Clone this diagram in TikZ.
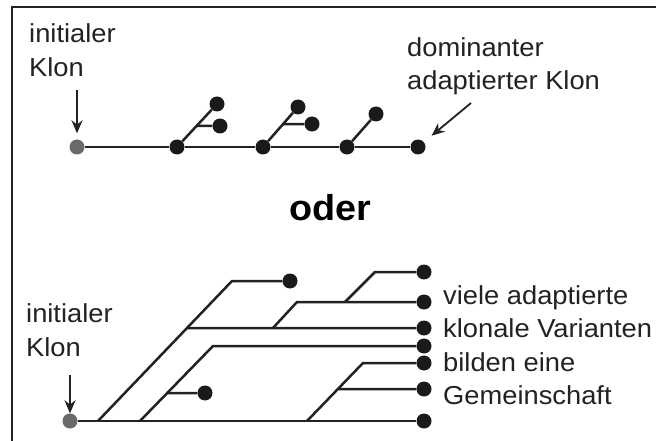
\documentclass[tikz,border=0pt]{standalone}
\usepackage{fontspec}
\setmainfont[FakeStretch=1.05]{Liberation Sans}
\usetikzlibrary{calc,arrows.meta}
\definecolor{ink}{HTML}{222222}
\definecolor{dotc}{HTML}{1A1A1A}
\definecolor{initc}{HTML}{6A6A6A}
\begin{document}
\begin{tikzpicture}[x=1pt,y=-1pt,
  dot/.style={circle,fill=dotc,inner sep=0pt,minimum size=15pt},
  initdot/.style={circle,fill=initc,inner sep=0pt,minimum size=15pt},
  branch/.style={draw=ink,line width=2.5pt},
  pointer/.style={draw=ink,line width=1.8pt,-{Stealth[length=13pt,width=11pt]}},
  lbl/.style={inner sep=0pt,anchor=base west,text=ink,font=\fontsize{26}{34}\selectfont},
  frameline/.style={draw=ink,line width=2.2pt}]
\useasboundingbox (0,0) rectangle (656,441);
\fill[white] (0,0) rectangle (656,441);
% frame (top and left edges)
\draw[frameline] (12,441) -- (12,7) -- (656,7);

% ---------- upper tree: one dominant lineage ----------
\node[initdot] (t0) at (77,147) {};
\node[dot] (t1) at (177,147) {};
\node[dot] (t2) at (263,147) {};
\node[dot] (t3) at (347,147) {};
\node[dot] (t4) at (418,147) {};
\node[dot] (t1a) at (217,104) {};
\node[dot] (t1b) at (220,126) {};
\node[dot] (t2a) at (298,107) {};
\node[dot] (t2b) at (312,124) {};
\node[dot] (t3a) at (376,114) {};
\coordinate (j1) at ($(t1.center)!0.49!(t1a.center)$);
\coordinate (j2) at ($(t2.center)!0.57!(t2a.center)$);
\draw[branch] (t0) -- (t1) -- (t2) -- (t3) -- (t4);
\draw[branch] (t1) -- (t1a);
\draw[branch] (j1) -- (t1b);
\draw[branch] (t2) -- (t2a);
\draw[branch] (j2) -- (t2b);
\draw[branch] (t3) -- (t3a);

\node[lbl] (ilA) at (29,43) {initialer};
\node[lbl] (ilB) at (29,77) {Klon};
\coordinate (ia) at (77,90);
\draw[pointer,shorten >=6pt] (ia) -- (t0);
\node[lbl] (dmA) at (407,57) {dominanter};
\node[lbl] (dmB) at (407,90) {adaptierter Klon};
\coordinate (da) at (471,103);
\draw[pointer,shorten >=10pt] (da) -- (t4);

% ---------- separator ----------
\node[inner sep=0pt,anchor=base,text=black,font=\fontsize{36}{42}\selectfont\bfseries] (oder) at (330,220) {oder};

% ---------- lower tree: many coexisting variants ----------
\node[initdot] (b0) at (70,421) {};
\node[dot] (e1) at (424,272) {};
\node[dot] (e2) at (424,302) {};
\node[dot] (e3) at (424,328) {};
\node[dot] (e4) at (424,346) {};
\node[dot] (e5) at (424,363) {};
\node[dot] (e6) at (424,389) {};
\node[dot] (e7) at (424,421) {};
\node[dot] (d1) at (290,281) {};
\node[dot] (d2) at (205,393) {};

\coordinate (aS) at (98,421);
\coordinate (aC) at (232,281);
\coordinate (aJ) at ($(aS)!0.664!(aC)$);
\coordinate (a2S) at (273,328);
\coordinate (a2C) at (297,302);
\coordinate (a3S) at (345,302);
\coordinate (a3C) at (375,272);
\coordinate (bS) at (140,421);
\coordinate (bC) at (213,346);
\coordinate (bJ) at ($(bS)!0.373!(bC)$);
\coordinate (cS) at (307,421);
\coordinate (cC) at (363,363);
\coordinate (cJ) at ($(cS)!0.55!(cC)$);

\draw[branch] (b0) -- (e7);
\draw[branch] (aS) -- (aC) -- (d1);
\draw[branch] (aJ) -- (e3);
\draw[branch] (a2S) -- (a2C) -- (e2);
\draw[branch] (a3S) -- (a3C) -- (e1);
\draw[branch] (bS) -- (bC) -- (e4);
\draw[branch] (bJ) -- (d2);
\draw[branch] (cS) -- (cC) -- (e5);
\draw[branch] (cJ) -- (e6);

\node[lbl] (ilC) at (26,322) {initialer};
\node[lbl] (ilD) at (26,356) {Klon};
\coordinate (ib) at (70,375);
\draw[pointer] (ib) -- (b0);

\node[lbl] (vA) at (443,304) {viele adaptierte};
\node[lbl] (vB) at (443,337) {klonale Varianten};
\node[lbl] (vC) at (443,371) {bilden eine};
\node[lbl] (vD) at (443,404) {Gemeinschaft};
\end{tikzpicture}
\end{document}
